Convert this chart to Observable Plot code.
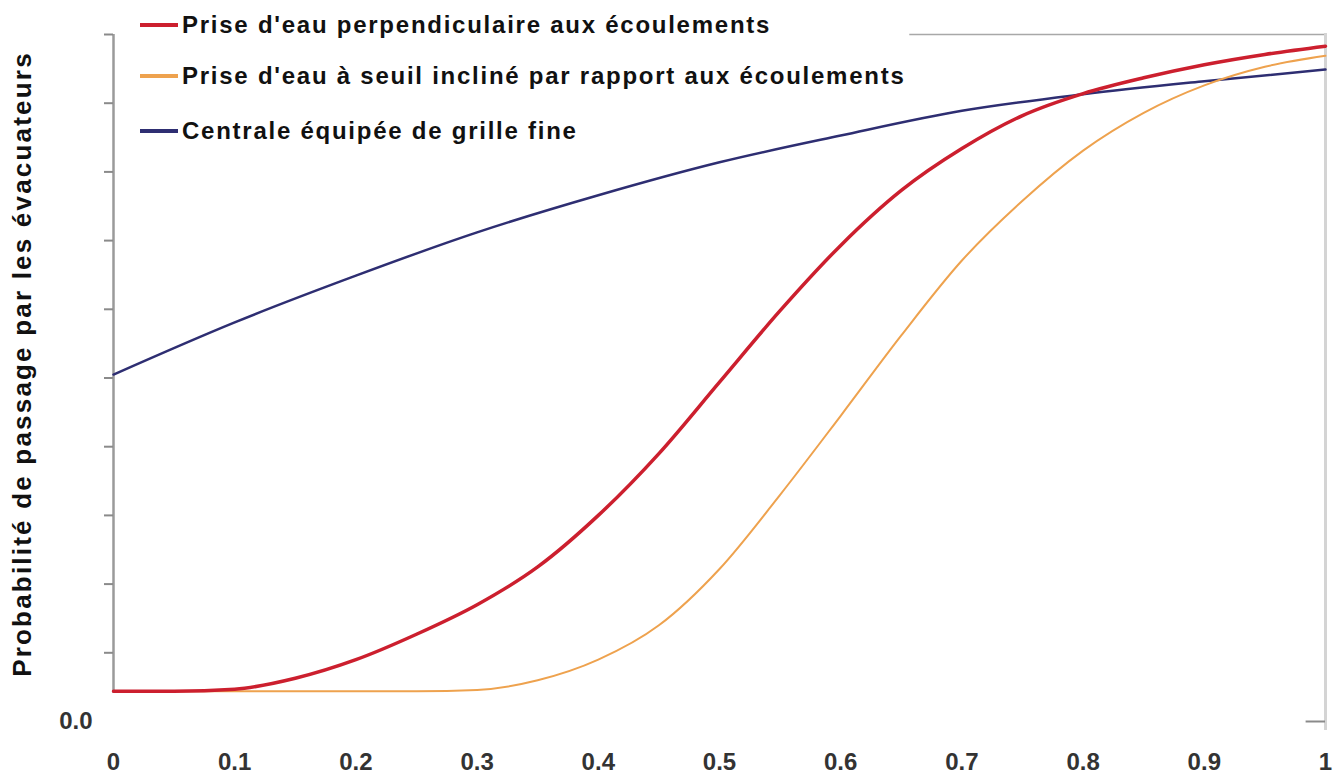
<!DOCTYPE html>
<html>
<head>
<meta charset="utf-8">
<script src="https://cdn.jsdelivr.net/npm/d3@7"></script>
<script src="https://cdn.jsdelivr.net/npm/@observablehq/plot@0.6"></script>
<style>
  html, body { margin: 0; padding: 0; background: #fff; }
  #wrap { position: relative; width: 1341px; height: 774px; overflow: hidden; font-family: "Liberation Sans", Arial, sans-serif; }
  .leg { position: absolute; left: 140px; height: 30px; display: flex; align-items: center; }
  .sw { width: 38px; height: 4px; margin-right: 4px; }
  .lt { font-size: 24px; font-weight: bold; letter-spacing: 1.75px; color: #111; white-space: nowrap; }
  #ytitle { position: absolute; left: 22px; top: 364px; transform: translate(-50%, -50%) rotate(-90deg); font-size: 26px; font-weight: bold; letter-spacing: 2.2px; color: #111; white-space: nowrap; }
</style>
</head>
<body>
<div id="wrap"></div>
<script>
// ---- data ----
const seriesNames = [
  "Prise d'eau perpendiculaire aux écoulements",
  "Prise d'eau à seuil incliné par rapport aux écoulements",
  "Centrale équipée de grille fine"
];
const seriesColors = ["#cc1f2e", "#eea24e", "#2e2e72"];
const xFine = [0,0.05,0.1,0.15,0.2,0.25,0.3,0.35,0.4,0.45,0.5,0.55,0.6,0.65,0.7,0.75,0.8,0.85,0.9,0.95,1];
const redY = [0.044,0.044,0.047,0.063,0.090,0.127,0.170,0.225,0.300,0.390,0.494,0.598,0.693,0.773,0.834,0.882,0.914,0.937,0.956,0.971,0.983];
const orangeY = [0.044,0.044,0.044,0.044,0.044,0.044,0.046,0.060,0.090,0.140,0.222,0.330,0.445,0.562,0.671,0.758,0.831,0.886,0.926,0.953,0.969];
const xCoarse = [0,0.1,0.2,0.3,0.4,0.5,0.6,0.7,0.8,0.9,1];
const navyY = [0.505,0.581,0.649,0.712,0.766,0.814,0.853,0.889,0.913,0.932,0.949];
const xTicks = [0,0.1,0.2,0.3,0.4,0.5,0.6,0.7,0.8,0.9,1];
const xTickLabels = ["0","0.1","0.2","0.3","0.4","0.5","0.6","0.7","0.8","0.9","1"];
const yTicks = [0.1,0.2,0.3,0.4,0.5,0.6,0.7,0.8,0.9,1.0];
const yLabelTicks = [0];
const yLabelText = "Probabilité de passage par les évacuateurs";

const red = xFine.map((x, i) => ({x, y: redY[i]}));
const orange = xFine.map((x, i) => ({x, y: orangeY[i]}));
const navy = xCoarse.map((x, i) => ({x, y: navyY[i]}));

const font = "'Liberation Sans', Arial, sans-serif";

const chart = Plot.plot({
  width: 1341,
  height: 774,
  marginLeft: 113,
  marginRight: 16,
  marginTop: 34,
  marginBottom: 53,
  style: {fontFamily: font, background: "white", overflow: "visible"},
  x: {domain: [0, 1]},
  y: {domain: [0, 1]},
  marks: [
    // frame pieces
    Plot.ruleY([1], {x1: 0.657, x2: 1, stroke: "#a8a8a8", strokeWidth: 1.5}),
    Plot.ruleX([1], {y1: -0.013, y2: 1.0015, stroke: "#d4d4d4", strokeWidth: 3}),
    Plot.ruleY([0], {x1: 0.984, x2: 1, stroke: "#8a8a8a", strokeWidth: 2}),
    Plot.ruleX([0], {y1: 0.041, y2: 1, stroke: "#9a9a9a", strokeWidth: 2.5}),
    Plot.axisY({ticks: yTicks, tickSize: 9, tickFormat: () => "", label: null, stroke: "#8a8a8a", strokeWidth: 2}),
    Plot.axisY({ticks: yLabelTicks, tickSize: 0, tickPadding: 21, tickFormat: d3.format(".1f"), label: null,
      fontSize: 24, fontWeight: "bold", fill: "#333"}),
    Plot.axisX({ticks: xTicks, tickSize: 0, tickPadding: 31, label: null,
      tickFormat: d => xTickLabels[xTicks.indexOf(d)],
      fontSize: 24, fontWeight: "bold", fill: "#333"}),
    // curves
    Plot.line(navy, {x: "x", y: "y", stroke: seriesColors[2], strokeWidth: 2.5, curve: "monotone-x"}),
    Plot.line(orange, {x: "x", y: "y", stroke: seriesColors[1], strokeWidth: 2, curve: "monotone-x"}),
    Plot.line(red, {x: "x", y: "y", stroke: seriesColors[0], strokeWidth: 3.5, curve: "monotone-x"})
  ]
});

const wrap = document.getElementById("wrap");
wrap.appendChild(chart);

const rowCenters = [25, 76, 131];
seriesNames.forEach((name, i) => {
  const row = document.createElement("div");
  row.className = "leg";
  row.style.top = (rowCenters[i] - 15) + "px";
  const sw = document.createElement("div");
  sw.className = "sw";
  sw.style.background = seriesColors[i];
  const t = document.createElement("span");
  t.className = "lt";
  t.textContent = name;
  row.appendChild(sw);
  row.appendChild(t);
  wrap.appendChild(row);
});

const yt = document.createElement("div");
yt.id = "ytitle";
yt.textContent = yLabelText;
wrap.appendChild(yt);
</script>
</body>
</html>
